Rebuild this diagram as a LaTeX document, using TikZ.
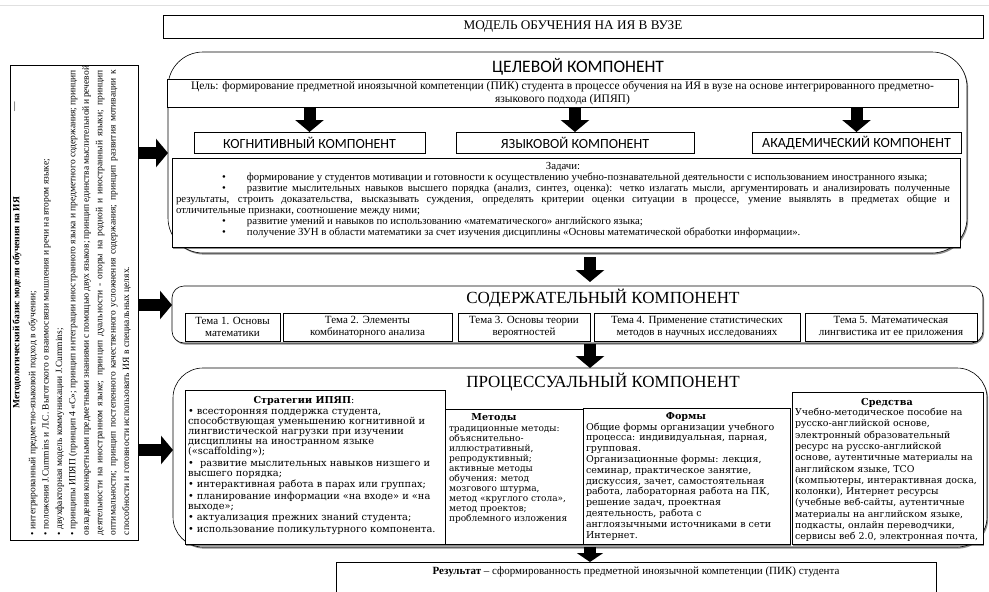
\documentclass[tikz,border=0pt]{standalone}
\usepackage{fontspec}
\setmainfont{Liberation Serif}
\newfontfamily\carl{Carlito}
\newfontfamily\djs{DejaVu Serif}
\usetikzlibrary{arrows.meta,shadows}
\begin{document}
\begin{tikzpicture}[x=1pt,y=-1pt,
  frame/.style={draw=black, line width=0.6pt, inner sep=0pt, outer sep=0pt},
  shad/.style={drop shadow={shadow xshift=1.2pt, shadow yshift=-1.6pt, opacity=0.45, fill=black}},
  barrow/.style={line width=12pt, -{Triangle[width=28pt,length=12pt]}},
  txt/.style={inner sep=0pt, outer sep=0pt},
  comp/.style={frame, fill=white, minimum height=21, font=\carl\fontsize{14}{16}\selectfont},
  topic/.style={frame, fill=white, minimum height=28, align=center, font=\fontsize{11}{12}\selectfont},
  inbox/.style={frame, fill=white, shad},
  head/.style={txt, font=\djs\bfseries\fontsize{9.6}{11}\selectfont},
]
\useasboundingbox (0,0) rectangle (989,592);
\fill[white] (0,0) rectangle (989,592);
\draw[black!12, line width=1.5pt] (0,5.5) -- (989,5.5);

% title
\node[frame, minimum width=820, minimum height=23, font=\fontsize{13.2}{15}\selectfont] (title) at (573,26.5) {МОДЕЛЬ ОБУЧЕНИЯ НА ИЯ В ВУЗЕ};

% left methodological box
\node[frame, minimum width=128, minimum height=475] (metbox) at (74,302.5) {};
\node[txt, rotate=90, anchor=north] (mettext) at (12.5,302.5) {\parbox[t]{465pt}{\fontsize{9.5}{13.4}\selectfont
\makebox[465pt]{\bfseries Методологический базис модели обучения на ИЯ}\\[2.6pt]
• интегрированный предметно-языковой подход в обучении;\\
• положения J.Cummins и Л.С. Выготского о взаимосвязи мышления и речи на втором языке;\\
• двухфакторная модель коммуникации J.Cummins;\\
\makebox[465pt][s]{• принципы ИПЯП (принцип 4 «С»; принцип интеграции иностранного языка и предметного содержания; принцип}\\
\makebox[465pt][s]{овладения конкретными предметными знаниями с помощью двух языков; принцип единства мыслительной и речевой}\\
\makebox[465pt][s]{деятельности на иностранном языке; принцип дуальности - опоры на родной и иностранный языки; принцип}\\
\makebox[465pt][s]{оптимальности; принцип постепенного качественного усложнения содержания; принцип развития мотивации к}\\
способности и готовности использовать ИЯ в специальных целях.}};
\node[txt, rotate=90, font=\fontsize{9.5}{11}\selectfont] (metdash) at (16,107) {—};

% target component
\node[frame, rounded corners=35pt, fill=white, shad, minimum width=799, minimum height=201] (target) at (567.5,152.5) {};
\node[txt, font=\carl\fontsize{17.5}{19}\selectfont] (ttitle) at (578,67) {ЦЕЛЕВОЙ КОМПОНЕНТ};
\node[frame, fill=white, minimum width=791, minimum height=28, align=center, font=\fontsize{11.5}{12.5}\selectfont] (goal) at (562.5,93) {Цель: формирование предметной иноязычной компетенции (ПИК) студента в процессе обучения на ИЯ в вузе на основе интегрированного предметно-\\языкового подхода (ИПЯП)};
\node[comp, minimum width=231] (cog) at (309.5,142.5) {КОГНИТИВНЫЙ КОМПОНЕНТ};
\node[comp, minimum width=238] (lang) at (575,142.5) {ЯЗЫКОВОЙ КОМПОНЕНТ};
\node[comp, minimum width=209] (acad) at (856.5,142.5) {АКАДЕМИЧЕСКИЙ КОМПОНЕНТ};
\draw[barrow] (goal.south -| cog.north) -- (cog.north);
\draw[barrow] (goal.south -| lang.north) -- (lang.north);
\draw[barrow] (goal.south -| acad.north) -- (acad.north);

\node[frame, fill=white, shad, minimum width=788, minimum height=89] (tasks) at (566,202.5) {};
\node[txt, anchor=base west] (taskstext) at (176,169.5) {\parbox[t]{774pt}{\fontsize{10.8}{11}\selectfont
\makebox[774pt]{Задачи:}\\
\hspace*{46pt}\makebox[25pt][l]{•}формирование у студентов мотивации и готовности к осуществлению учебно-познавательной деятельности с использованием иностранного языка;\\
\hspace*{46pt}\makebox[25pt][l]{•}\makebox[703pt][s]{развитие мыслительных навыков высшего порядка (анализ, синтез, оценка): четко излагать мысли, аргументировать и анализировать полученные}\\
\makebox[774pt][s]{результаты, строить доказательства, высказывать суждения, определять критерии оценки ситуации в процессе, умение выявлять в предметах общие и}\\
отличительные признаки, соотношение между ними;\\
\hspace*{46pt}\makebox[25pt][l]{•}развитие умений и навыков по использованию «математического» английского языка;\\
\hspace*{46pt}\makebox[25pt][l]{•}получение ЗУН в области математики за счет изучения дисциплины «Основы математической обработки информации».}};

% content component
\coordinate (ax) at (590,0);
\node[frame, rounded corners=12pt, fill=white, shad, minimum width=811, minimum height=57] (content) at (577.5,314.5) {};
\node[txt, font=\fontsize{17}{19}\selectfont] (ctitle) at (603,298.5) {СОДЕРЖАТЕЛЬНЫЙ КОМПОНЕНТ};
\node[topic, minimum width=95] (t1) at (232.5,327) {Тема 1. Основы\\математики};
\node[topic, minimum width=169] (t2) at (367.5,327) {Тема 2. Элементы\\комбинаторного анализа};
\node[topic, minimum width=132] (t3) at (524,327) {Тема 3. Основы теории\\вероятностей};
\node[topic, minimum width=206] (t4) at (697,327) {Тема 4. Применение статистических\\методов в научных исследованиях};
\node[topic, minimum width=172] (t5) at (891,327) {Тема 5. Математическая\\лингвистика ит ее приложения};
\draw[barrow, shorten <=4pt, shorten >=4pt] (target.south -| ax) -- (content.north -| ax);

% process component
\node[frame, rounded corners=30pt, fill=white, shad, minimum width=814, minimum height=179] (process) at (580,457.5) {};
\node[txt, font=\fontsize{17}{19}\selectfont] (ptitle) at (603,382.5) {ПРОЦЕССУАЛЬНЫЙ КОМПОНЕНТ};
\draw[barrow, shorten <=1pt] (content.south -| ax) -- (process.north -| ax);

\node[inbox, minimum width=260, minimum height=154] (strat) at (315,467) {};
\node[inbox, minimum width=138, minimum height=135] (meth) at (514,476.5) {};
\node[inbox, minimum width=207, minimum height=136] (forms) at (686.5,476) {};
\node[inbox, minimum width=191, minimum height=152] (means) at (887.5,468) {};

\node[head] (strath) at (304,400.5) {Стратегии ИПЯП\textmd{:}};
\node[txt, anchor=base west] (strattext) at (188,414) {\parbox[t]{255pt}{\djs\fontsize{9.8}{10.2}\selectfont
• всесторонняя поддержка студента,\\
способствующая уменьшению когнитивной и\\
лингвистической нагрузки при изучении\\
дисциплины на иностранном языке\\
(«scaffolding»);\\[1.2pt]
•\ \ развитие мыслительных навыков низшего и\\
высшего порядка;\\[1.2pt]
• интерактивная работа в парах или группах;\\[1.2pt]
• планирование информации «на входе» и «на\\
выходе»;\\[1.2pt]
• актуализация прежних знаний студента;\\[1.2pt]
• использование поликультурного компонента.}};

\node[head] (methh) at (494,418) {Методы};
\node[txt, anchor=base west] (methtext) at (449,431) {\parbox[t]{132pt}{\djs\fontsize{9}{10}\selectfont
традиционные методы:\\
объяснительно-\\
иллюстративный,\\
репродуктивный;\\
активные методы\\
обучения: метод\\
мозгового штурма,\\
метод «круглого стола»,\\
метод проектов;\\
проблемного изложения}};

\node[head] (formsh) at (686,416.5) {Формы};
\node[txt, anchor=base west] (formstext) at (586,430) {\parbox[t]{200pt}{\djs\fontsize{9.5}{10.8}\selectfont
Общие формы организации учебного\\
процесса: индивидуальная, парная,\\
групповая.\\
Организационные формы: лекция,\\
семинар, практическое занятие,\\
дискуссия, зачет, самостоятельная\\
работа, лабораторная работа на ПК,\\
решение задач, проектная\\
деятельность, работа с\\
англоязычными источниками в сети\\
Интернет.}};

\node[head] (meansh) at (887,402.5) {Средства};
\node[txt, anchor=base west] (meanstext) at (795,415.5) {\parbox[t]{186pt}{\djs\fontsize{9.4}{11.3}\selectfont
Учебно-методическое пособие на\\
русско-английской основе,\\
электронный образовательный\\
ресурс на русско-английской\\
основе, аутентичные материалы на\\
английском языке, ТСО\\
(компьютеры, интерактивная доска,\\
колонки), Интернет ресурсы\\
(учебные веб-сайты, аутентичные\\
материалы на английском языке,\\
подкасты, онлайн переводчики,\\
сервисы веб 2.0, электронная почта,}};

% result
\node[frame, minimum width=600, minimum height=40, anchor=north] (result) at (636,562) {};
\node[txt, font=\fontsize{11}{13}\selectfont] (restext) at (636,571.5) {\textbf{Результат} – сформированность предметной иноязычной компетенции (ПИК) студента};
\draw[line width=12pt, -{Triangle[width=26pt,length=9pt]}] (process.south -| ax) -- (result.north -| ax);

% left arrows
\coordinate (ly1) at (0,153);
\coordinate (ly2) at (0,305);
\coordinate (ly3) at (0,450);
\draw[barrow] (metbox.east |- ly1) -- (target.west |- ly1);
\draw[barrow] (metbox.east |- ly2) -- (content.west |- ly2);
\draw[barrow] (metbox.east |- ly3) -- (process.west |- ly3);
\end{tikzpicture}
\end{document}
